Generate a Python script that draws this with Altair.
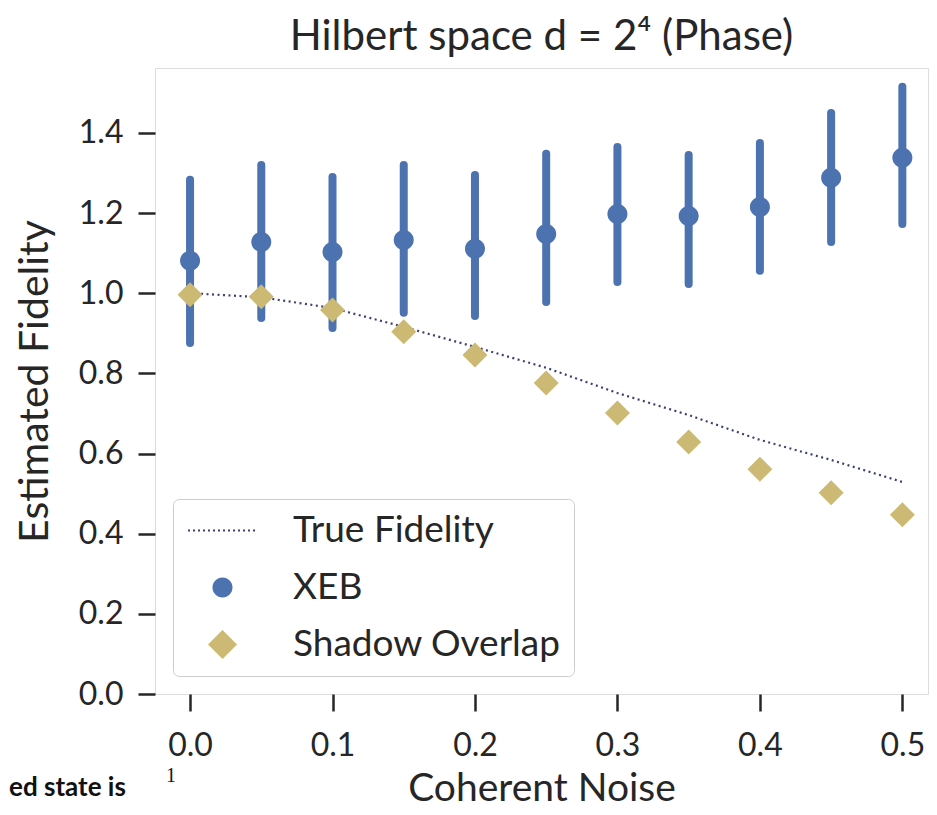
import altair as alt
import pandas as pd

# ---- data ----
noise = [0.0, 0.05, 0.1, 0.15, 0.2, 0.25, 0.3, 0.35, 0.4, 0.45, 0.5]
true_fidelity = [1.0, 0.99, 0.963, 0.916, 0.866, 0.814, 0.751, 0.696, 0.634, 0.584, 0.529]
xeb_mean = [1.081, 1.128, 1.103, 1.133, 1.111, 1.148, 1.198, 1.193, 1.215, 1.288, 1.338]
xeb_low = [0.876, 0.938, 0.913, 0.951, 0.943, 0.978, 1.028, 1.023, 1.056, 1.128, 1.173]
xeb_high = [1.283, 1.320, 1.290, 1.320, 1.295, 1.348, 1.365, 1.345, 1.375, 1.450, 1.515]
shadow = [0.996, 0.991, 0.958, 0.904, 0.846, 0.776, 0.701, 0.629, 0.561, 0.502, 0.447]

series = ["True Fidelity", "XEB", "Shadow Overlap"]
colors = ["#3c4170", "#4c72b0", "#ccb974"]
x_ticks = [0.0, 0.1, 0.2, 0.3, 0.4, 0.5]
y_ticks = [0.0, 0.2, 0.4, 0.6, 0.8, 1.0, 1.2, 1.4]
notes = ["ed state is", "1"]

# ---- symbol paths (unit square -1..1) ----
dots = "".join(
    f"M{-2 + i * 0.29:.3f},-0.058h0.116v0.116h-0.116Z" for i in range(14)
)
r = 0.58
circle = f"M{r},0A{r},{r},0,1,1,{-r},0A{r},{r},0,1,1,{r},0Z"
d = 0.84
diamond = f"M0,{-d}L{d},0L0,{d}L{-d},0Z"
shapes = [dots, circle, diamond]

FONT = "Lato"
INK = "#262626"

line_df = pd.DataFrame({"x": noise, "y": true_fidelity, "series": series[0]})
xeb_df = pd.DataFrame({"x": noise, "y": xeb_mean, "lo": xeb_low, "hi": xeb_high, "series": series[1]})
sh_df = pd.DataFrame({"x": noise, "y": shadow, "series": series[2]})
note_df = pd.DataFrame({"t": notes})

xscale = alt.Scale(domain=[-0.0246, 0.5180], nice=False, zero=False)
yscale = alt.Scale(domain=[0, 1.562], nice=False, zero=False)

xaxis = alt.Axis(
    values=x_ticks, format=".1f", title="Coherent Noise", domain=False, grid=False,
    tickSize=17, tickWidth=2.5, tickColor=INK, labelFont=FONT, labelFontSize=32,
    labelColor=INK, labelPadding=19, labelFlush=False, labelOverlap=False,
    titleFont=FONT, titleFontSize=39, titleFontWeight="normal", titleColor=INK,
    titlePadding=8,
)
yaxis = alt.Axis(
    values=y_ticks, format=".1f", title="Estimated Fidelity", domain=False, grid=False,
    tickSize=17, tickWidth=2.5, tickColor=INK, labelFont=FONT, labelFontSize=32,
    labelColor=INK, labelPadding=15, labelFlush=False, labelOverlap=False,
    titleFont=FONT, titleFontSize=41, titleFontWeight="normal", titleColor=INK,
    titlePadding=22,
)

X = alt.X("x:Q", scale=xscale, axis=xaxis)
Y = alt.Y("y:Q", scale=yscale, axis=yaxis)

legend = alt.Legend(
    title=None, orient="bottom-left", offset=18, padding=13,
    symbolSize=1190, symbolOffset=18, symbolStrokeWidth=0, symbolOpacity=1,
    labelOffset=52, rowPadding=19, labelFont=FONT, labelFontSize=37,
    labelColor=INK, labelLimit=500, strokeColor="#cccccc", fillColor="white",
    cornerRadius=6,
)
color = alt.Color("series:N", scale=alt.Scale(domain=series, range=colors), legend=legend)
shape = alt.Shape("series:N", scale=alt.Scale(domain=series, range=shapes), legend=legend)

rules = alt.Chart(xeb_df).mark_rule(
    color=colors[1], strokeWidth=8, strokeCap="round"
).encode(x=X, y=alt.Y("lo:Q", scale=yscale, axis=yaxis), y2="hi:Q")

xeb_pts = alt.Chart(xeb_df).mark_point(filled=True, size=1190, opacity=1).encode(
    x=X, y=Y, color=color, shape=shape
)

true_line = alt.Chart(line_df).mark_line(
    color=colors[0], strokeDash=[2, 3.5], strokeWidth=2.2
).encode(x=X, y=Y)

sh_pts = alt.Chart(sh_df).mark_point(filled=True, size=886, opacity=1).encode(
    x=X, y=Y, color=color, shape=shape
)

note_main = alt.Chart(note_df.iloc[[0]]).mark_text(
    font=FONT, fontSize=26, fontWeight="bold", color="#111111", align="left",
    baseline="alphabetic"
).encode(x=alt.value(-146), y=alt.value(728), text="t:N")

note_frac = alt.Chart(note_df.iloc[[1]]).mark_text(
    font="Liberation Serif", fontSize=20, color="#111111", align="center",
    baseline="alphabetic"
).encode(x=alt.value(16), y=alt.value(714), text="t:N")

chart = alt.layer(rules, xeb_pts, true_line, sh_pts, note_main, note_frac).properties(
    width=773,
    height=626,
    title=alt.TitleParams(
        "Hilbert space d = 2⁴ (Phase)", font=FONT, fontSize=42, fontWeight="normal",
        color=INK, offset=9, anchor="middle",
    ),
    autosize=alt.AutoSizeParams(type="none"),
    padding={"left": 147, "top": 60, "right": 1, "bottom": 113},
).configure_view(stroke=INK, strokeWidth=3).configure(background="white")

chart.save("out.html", embed_options={"renderer": "svg", "actions": False})
